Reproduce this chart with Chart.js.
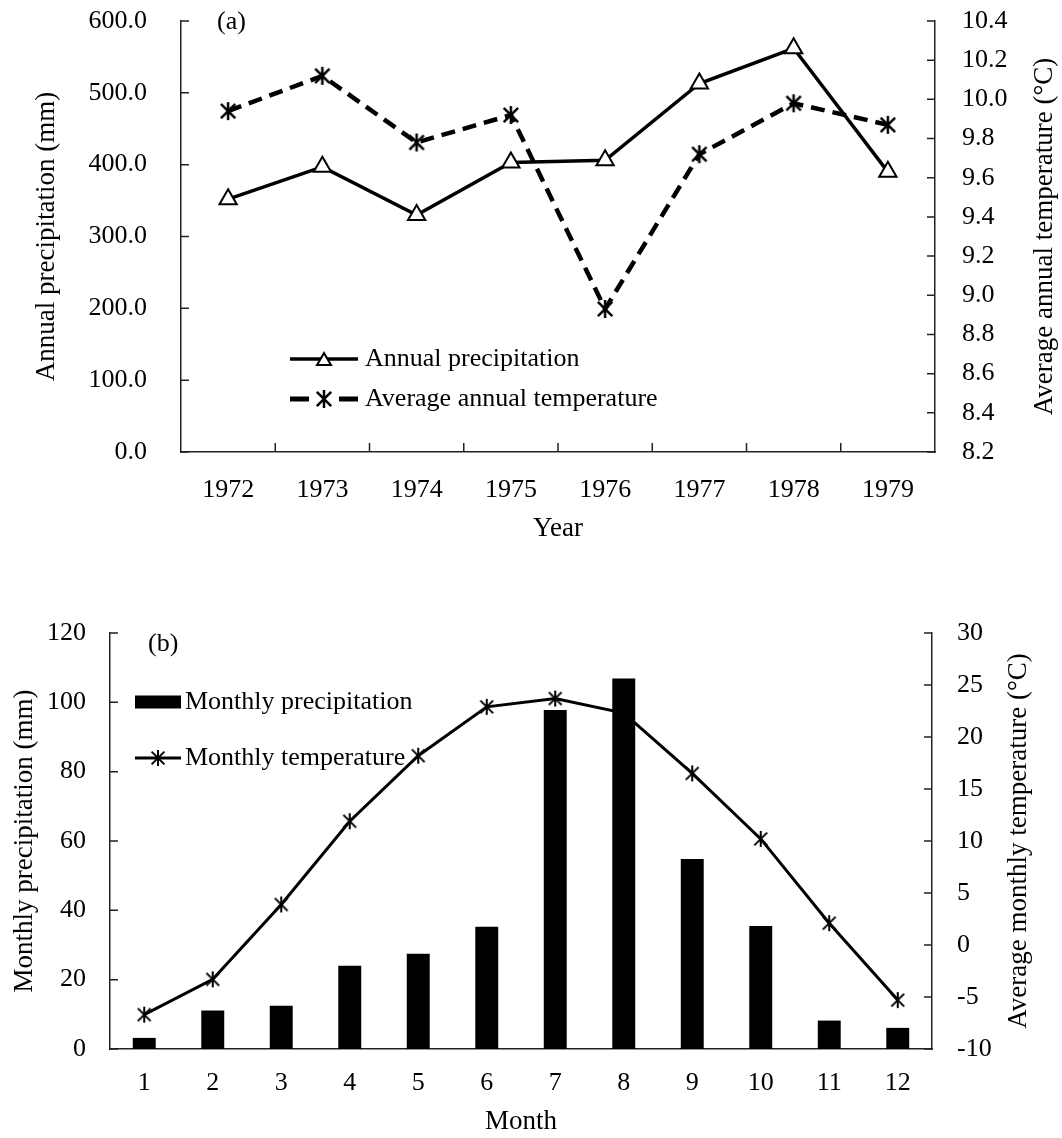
<!DOCTYPE html>
<html>
<head>
<meta charset="utf-8">
<script src="https://cdn.jsdelivr.net/npm/chart.js@4.4.1/dist/chart.umd.min.js"></script>
<style>
  html, body { margin: 0; padding: 0; background: #fff; overflow: hidden; }
  .box { position: absolute; left: 0; width: 1062px; }
  #boxA { top: 0; height: 560px; }
  #boxB { top: 560px; height: 578px; }
</style>
</head>
<body>
<div class="box" id="boxA"><canvas id="chartA" width="1062" height="560"></canvas></div>
<div class="box" id="boxB"><canvas id="chartB" width="1062" height="578"></canvas></div>
<script>
// (a) yearly data
const years = ['1972', '1973', '1974', '1975', '1976', '1977', '1978', '1979'];
const annualPrecip = [352, 397, 330, 403, 406, 513, 562, 390];
const annualTemp = [9.94, 10.12, 9.78, 9.92, 8.93, 9.72, 9.98, 9.87];

// (b) monthly data
const months = ['1', '2', '3', '4', '5', '6', '7', '8', '9', '10', '11', '12'];
const monthlyPrecip = [3.2, 11.1, 12.5, 24.0, 27.5, 35.3, 97.8, 106.9, 54.8, 35.5, 8.2, 6.1];
const monthlyTemp = [-6.7, -3.3, 3.9, 11.9, 18.2, 22.9, 23.7, 22.3, 16.5, 10.2, 2.1, -5.3];

const FONT = "'Liberation Serif', 'Times New Roman', serif";
const tickFont = { family: FONT, size: 26 };
const titleFont = { family: FONT, size: 27 };
const axisBorder = { display: true, color: '#222', width: 1.5 };

// fixed axis sizes so the plot area lands where the original has it
function fixWidth(w) {
    return function(scale) {
        scale.width = w;
        scale.paddingTop = 0;
        scale.paddingBottom = 0;
    };
}

// asterisk marker (vertical bar + X), like the Excel star marker
function makeStar(size, lw) {
    const c = document.createElement('canvas');
    c.width = size; c.height = size;
    const g = c.getContext('2d');
    const m = size / 2, r = size / 2 - 1;
    g.strokeStyle = '#000';
    g.lineWidth = lw;
    g.beginPath();
    g.moveTo(m, m - r); g.lineTo(m, m + r);
    const d = r * 0.8;
    g.moveTo(m - d, m - d); g.lineTo(m + d, m + d);
    g.moveTo(m + d, m - d); g.lineTo(m - d, m + d);
    g.stroke();
    return c;
}
const starA = makeStar(20, 2.5);
const starB = makeStar(18, 2);

function drawTriangle(ctx, x, y, r) {
    let rad = 0;
    ctx.beginPath();
    for (let i = 0; i < 3; i++) {
        const px = x + Math.sin(rad) * r, py = y - Math.cos(rad) * r;
        if (i === 0) ctx.moveTo(px, py); else ctx.lineTo(px, py);
        rad += Math.PI * 2 / 3;
    }
    ctx.closePath();
    ctx.fillStyle = '#fff';
    ctx.fill();
    ctx.lineWidth = 2;
    ctx.strokeStyle = '#000';
    ctx.stroke();
}

// short tick marks drawn inside the plot area
const innerTicks = {
    id: 'innerTicks',
    afterDraw(chart, args, opts) {
        const ctx = chart.ctx;
        ctx.save();
        ctx.strokeStyle = '#222';
        ctx.lineWidth = 1.5;
        Object.values(chart.scales).forEach(scale => {
            const len = opts[scale.id];
            if (!len) return;
            ctx.beginPath();
            if (scale.axis === 'y') {
                const left = scale.position === 'left';
                const x = left ? scale.right : scale.left;
                scale.ticks.forEach((t, i) => {
                    const y = scale.getPixelForTick(i);
                    ctx.moveTo(x, y);
                    ctx.lineTo(x + (left ? len : -len), y);
                });
            } else {
                for (let i = 0; i < scale.ticks.length - 1; i++) {
                    const x = (scale.getPixelForTick(i) + scale.getPixelForTick(i + 1)) / 2;
                    ctx.moveTo(x, scale.top);
                    ctx.lineTo(x, scale.top - len);
                }
            }
            ctx.stroke();
        });
        ctx.restore();
    }
};

// panel label, right axis title and legend
const extras = {
    id: 'extras',
    afterDraw(chart, args, opts) {
        const ctx = chart.ctx;
        const area = chart.chartArea;
        ctx.save();
        ctx.fillStyle = '#000';
        ctx.font = '26px ' + FONT;
        ctx.textBaseline = 'middle';
        ctx.textAlign = 'left';
        ctx.fillText(opts.panel, opts.panelX, opts.panelY);

        // right axis title, reading bottom to top
        ctx.save();
        ctx.font = '27px ' + FONT;
        ctx.textAlign = 'center';
        ctx.translate(opts.rightTitleX, (area.top + area.bottom) / 2);
        ctx.rotate(-Math.PI / 2);
        ctx.fillText(opts.rightTitle, 0, 0);
        ctx.restore();

        ctx.font = '26px ' + FONT;
        opts.legend.forEach(item => {
            const ds = chart.data.datasets[item.ds];
            const x0 = item.x, x1 = item.x + item.w, y = item.y;
            const mid = (x0 + x1) / 2;
            ctx.strokeStyle = '#000';
            if (item.kind === 'bar') {
                ctx.fillStyle = '#000';
                ctx.fillRect(x0, y - 6.5, item.w, 13);
            } else {
                ctx.lineWidth = item.lw;
                ctx.setLineDash(item.dash || []);
                ctx.beginPath();
                ctx.moveTo(x0, y);
                ctx.lineTo(x1, y);
                ctx.stroke();
                ctx.setLineDash([]);
                if (item.kind === 'tri') {
                    drawTriangle(ctx, mid, y + 2, 8);
                } else {
                    ctx.drawImage(item.img, mid - item.img.width / 2, y - item.img.height / 2);
                }
            }
            ctx.fillStyle = '#000';
            ctx.fillText(ds.label, item.tx, y);
        });
        ctx.restore();
    }
};

Chart.register(innerTicks, extras);

new Chart(document.getElementById('chartA'), {
    type: 'line',
    data: {
        labels: years,
        datasets: [{
            label: 'Annual precipitation',
            data: annualPrecip,
            yAxisID: 'y',
            borderColor: '#000',
            borderWidth: 3.5,
            pointStyle: 'triangle',
            pointRadius: 10,
            pointBorderWidth: 2,
            pointBackgroundColor: '#fff',
            pointBorderColor: '#000',
            tension: 0,
            order: 1
        }, {
            label: 'Average annual temperature',
            data: annualTemp,
            yAxisID: 'y1',
            borderColor: '#000',
            borderWidth: 4.5,
            borderDash: [14, 8],
            pointStyle: starA,
            tension: 0,
            order: 0
        }]
    },
    options: {
        responsive: false,
        animation: false,
        layout: { padding: { top: 21, left: 0, right: 0, bottom: 0 } },
        scales: {
            x: {
                offset: true,
                grid: { display: false, drawTicks: false },
                border: axisBorder,
                ticks: { color: '#000', font: tickFont, padding: 23 },
                title: { display: true, text: 'Year', color: '#000', font: titleFont, padding: { top: 0, bottom: 15 } },
                afterFit(scale) { scale.height = 108; }
            },
            y: {
                position: 'left',
                min: 0, max: 600,
                grid: { display: false, drawTicks: false },
                border: axisBorder,
                ticks: {
                    stepSize: 100, color: '#000', font: tickFont, padding: 34,
                    callback: v => v.toFixed(1)
                },
                title: { display: true, text: 'Annual precipitation (mm)', color: '#000', font: titleFont, padding: { top: 31, bottom: 0 } },
                afterFit: fixWidth(181)
            },
            y1: {
                position: 'right',
                min: 8.2, max: 10.4,
                grid: { display: false, drawTicks: false },
                border: axisBorder,
                ticks: {
                    stepSize: 0.2, color: '#000', font: tickFont, padding: 27,
                    callback: v => v.toFixed(1)
                },
                afterFit: fixWidth(127)
            }
        },
        plugins: {
            legend: { display: false },
            tooltip: { enabled: false },
            innerTicks: { x: 9, y: 8, y1: 8 },
            extras: {
                panel: '(a)', panelX: 217, panelY: 22,
                rightTitle: 'Average annual temperature (\u00b0C)', rightTitleX: 1045,
                legend: [
                    { ds: 0, kind: 'tri', x: 290, w: 68, y: 359, lw: 3.5, tx: 365 },
                    { ds: 1, kind: 'star', x: 290, w: 68, y: 399, lw: 5, dash: [19, 30], img: starA, tx: 365 }
                ]
            }
        }
    }
});

new Chart(document.getElementById('chartB'), {
    type: 'bar',
    data: {
        labels: months,
        datasets: [{
            type: 'line',
            label: 'Monthly temperature',
            data: monthlyTemp,
            yAxisID: 'y1',
            borderColor: '#000',
            borderWidth: 3,
            pointStyle: starB,
            tension: 0,
            order: 0
        }, {
            type: 'bar',
            label: 'Monthly precipitation',
            data: monthlyPrecip,
            yAxisID: 'y',
            backgroundColor: '#000',
            borderWidth: 0,
            barPercentage: 0.335,
            categoryPercentage: 1,
            order: 1
        }]
    },
    options: {
        responsive: false,
        animation: false,
        layout: { padding: { top: 73, left: 0, right: 0, bottom: 0 } },
        scales: {
            x: {
                grid: { display: false, drawTicks: false },
                border: axisBorder,
                ticks: { color: '#000', font: tickFont, padding: 19 },
                title: { display: true, text: 'Month', color: '#000', font: titleFont, padding: { top: 0, bottom: 0 } },
                afterFit(scale) { scale.height = 89; }
            },
            y: {
                position: 'left',
                min: 0, max: 120,
                grid: { display: false, drawTicks: false },
                border: axisBorder,
                ticks: { stepSize: 20, color: '#000', font: tickFont, padding: 24 },
                title: { display: true, text: 'Monthly precipitation (mm)', color: '#000', font: titleFont, padding: { top: 9, bottom: 0 } },
                afterFit: fixWidth(110)
            },
            y1: {
                position: 'right',
                min: -10, max: 30,
                grid: { display: false, drawTicks: false },
                border: axisBorder,
                ticks: { stepSize: 5, color: '#000', font: tickFont, padding: 25 },
                afterFit: fixWidth(130)
            }
        },
        plugins: {
            legend: { display: false },
            tooltip: { enabled: false },
            innerTicks: { y: 8, y1: 8 },
            extras: {
                panel: '(b)', panelX: 148, panelY: 84,
                rightTitle: 'Average monthly temperature (\u00b0C)', rightTitleX: 1019,
                legend: [
                    { ds: 1, kind: 'bar', x: 135, w: 46, y: 142, tx: 185 },
                    { ds: 0, kind: 'star', x: 135, w: 46, y: 198, lw: 3, img: starB, tx: 185 }
                ]
            }
        }
    }
});
</script>
</body>
</html>
